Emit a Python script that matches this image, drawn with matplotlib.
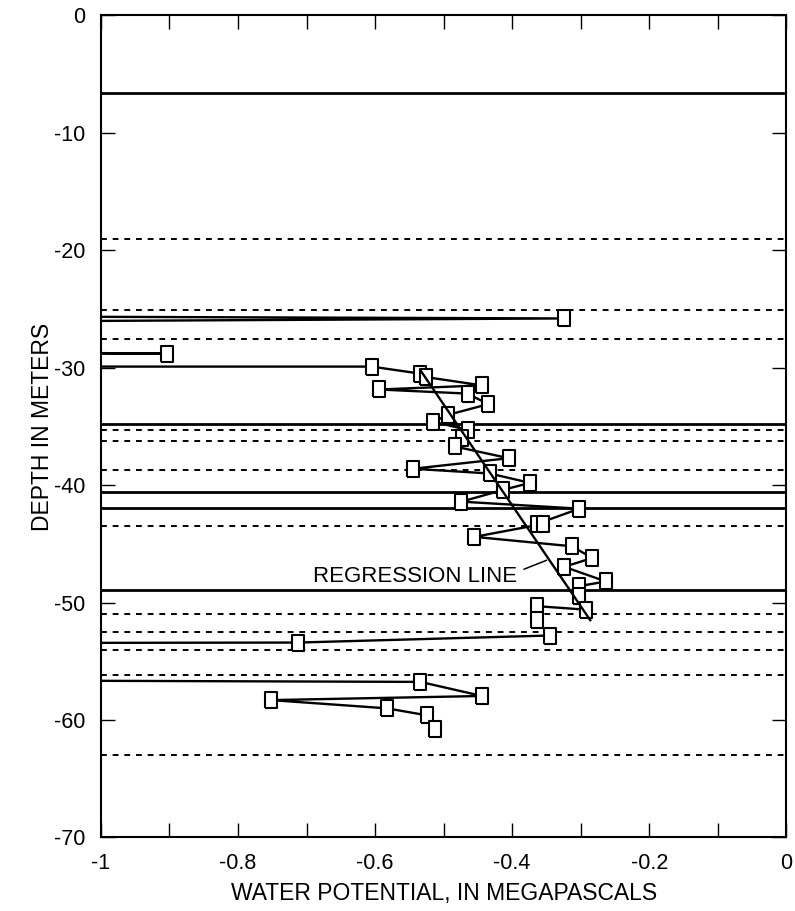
import matplotlib
matplotlib.use('Agg')
import matplotlib.pyplot as plt
import numpy as np

plt.rcParams['font.family'] = ['Liberation Sans', 'DejaVu Sans']

# water potential (MPa) and depth (m); values below -1 run off the left edge
potential = [-1.3, -0.325, -1.3, -1.3, -0.903, -1.3, -1.3, -0.605, -0.534, -0.525,
             -0.444, -0.594, -0.465, -0.435, -0.493, -0.515, -0.464, -0.473,
             -0.484, -0.405, -0.545, -0.433, -0.374, -0.413, -0.474, -0.302,
             -0.364, -0.355, -0.455, -0.313, -0.283, -0.324, -0.263, -0.303,
             -0.303, -0.292, -0.364, -0.364, -0.345, -0.712, -1.3, -1.3,
             -0.534, -0.444, -0.752, -0.583, -0.524, -0.513]
depth = [-25.6, -25.8, -26.1, -28.6, -28.8, -28.7, -29.9, -29.9, -30.5, -30.8,
         -31.5, -31.85, -32.2, -33.1, -34.0, -34.6, -35.3, -36.0,
         -36.7, -37.7, -38.6, -39.0, -39.8, -40.4, -41.4, -42.0,
         -43.3, -43.3, -44.4, -45.2, -46.2, -46.95, -48.2, -48.6,
         -49.4, -50.6, -50.3, -51.5, -52.8, -53.4, -53.45, -56.6,
         -56.75, -57.95, -58.3, -59.0, -59.6, -60.8]
# points drawn with a marker (the off-scale ones are not)
marked = [p > -1 for p in potential]

regression_x = [-0.534, -0.286]
regression_y = [-30.2, -51.5]

solid_levels = [-6.6, -34.75, -40.6, -41.9, -48.9]
dotted_levels = [-19.0, -25.1, -27.55, -35.3, -36.2, -38.7, -43.5,
                 -51.0, -52.5, -54.05, -56.2, -63.0]

fig = plt.figure(figsize=(7.95, 9.11), dpi=100)
ax = fig.add_axes([0.127, 0.0807, 0.862, 0.9023])

for lv in solid_levels:
    ax.axhline(lv, color='black', lw=2.0)
for lv in dotted_levels:
    ax.axhline(lv, color='black', lw=1.4, dashes=(3, 3))

ax.plot(potential, depth, color='black', lw=1.7)
rect = [(-0.75, -1), (0.75, -1), (0.75, 1), (-0.75, 1), (-0.75, -1)]
px = [p for p, m in zip(potential, marked) if m]
py = [d for d, m in zip(depth, marked) if m]
ax.plot(px, py, ls='none', marker=rect, markersize=11, mfc='white',
        mec='black', mew=1.5)

ax.plot(regression_x, regression_y, color='black', lw=1.7)
ax.text(-0.393, -47.75, 'REGRESSION LINE', ha='right', va='center', fontsize=16)
ax.plot([-0.3825, -0.350], [-47.15, -46.4], color='black', lw=1.1)

ax.set_xlim(-1, 0)
ax.set_ylim(-70, 0)
ax.set_xticks(np.arange(-1, 0.01, 0.2))
ax.set_xticklabels(['-1', '-0.8', '-0.6', '-0.4', '-0.2', '0'])
ax.set_xticks(np.arange(-0.9, 0, 0.2), minor=True)
ax.set_yticks(np.arange(-70, 1, 10))
ax.set_yticklabels([str(v) for v in range(-70, 1, 10)])
ax.tick_params(which='both', direction='in', length=10, width=1,
               top=True, right=True, labelsize=15.5)
ax.tick_params(axis='x', pad=11)
ax.tick_params(axis='y', pad=11)
for s in ax.spines.values():
    s.set_linewidth(1.5)

ax.set_xlabel('WATER POTENTIAL, IN MEGAPASCALS', fontsize=16.5, labelpad=6)
ax.set_ylabel('DEPTH IN METERS', fontsize=16.5, labelpad=0)

fig.savefig('out.png', dpi=100)
